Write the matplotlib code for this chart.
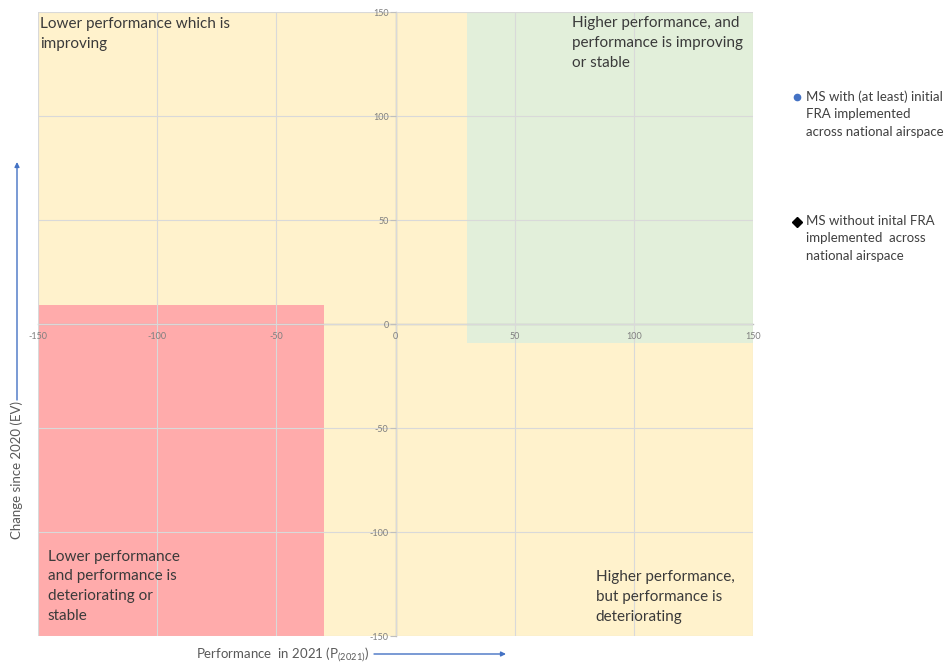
import matplotlib
matplotlib.use("Agg")
import matplotlib.pyplot as plt
from matplotlib.patches import Rectangle
from matplotlib.lines import Line2D

plt.rcParams['font.family'] = ['Lato', 'DejaVu Sans']

# axis range and ticks
x_lim = [-150, 150]
y_lim = [-150, 150]
ticks = [-150, -100, -50, 0, 50, 100, 150]

# background zones: (x0, x1, y0, y1, colour)
zone_names = ["base", "better", "worse"]
zone_x = [(-150, 150), (30, 150), (-150, -30)]
zone_y = [(-150, 150), (-9, 150), (-150, 9)]
zone_colors = ["#FFF2CC", "#E2EFDA", "#FFABAB"]

# quadrant captions
captions = [
    "Lower performance which is\nimproving",
    "Higher performance, and\nperformance is improving\nor stable",
    "Lower performance\nand performance is\ndeteriorating or\nstable",
    "Higher performance,\nbut performance is\ndeteriorating",
]
caption_x = [-149, 74, -146, 84]
caption_y = [147.5, 148, -108.5, -118.5]

# series (no member states plotted in this version)
fra_x, fra_y = [], []
nofra_x, nofra_y = [], []

fig = plt.figure(figsize=(9.52, 6.64), dpi=100)
ax = fig.add_axes([38 / 952, 1 - 636 / 664, 715 / 952, 624 / 664])
ax.set_xlim(x_lim)
ax.set_ylim(y_lim)

for (x0, x1), (y0, y1), c in zip(zone_x, zone_y, zone_colors):
    ax.add_patch(Rectangle((x0, y0), x1 - x0, y1 - y0, facecolor=c,
                           edgecolor='none', zorder=0))

ax.scatter(fra_x, fra_y, color='#4472C4', marker='o', s=25, zorder=5)
ax.scatter(nofra_x, nofra_y, color='black', marker='D', s=25, zorder=5)

ax.set_xticks(ticks)
ax.set_yticks(ticks)
ax.grid(True, color='#D9D9D9', linewidth=0.8, zorder=1)
ax.set_axisbelow(False)

for s in ['top', 'right']:
    ax.spines[s].set_visible(False)
ax.spines['left'].set_position(('data', 0))
ax.spines['bottom'].set_position(('data', 0))
for s in ['left', 'bottom']:
    ax.spines[s].set_color('#BFBFBF')
    ax.spines[s].set_linewidth(1.0)
    ax.spines[s].set_zorder(2)

ax.tick_params(axis='y', length=4, color='#BFBFBF', labelsize=6.5,
               labelcolor='#7F7F7F', pad=1)
ax.tick_params(axis='x', length=0, labelsize=6.5, labelcolor='#7F7F7F', pad=6)
ax.set_xticklabels([str(t) for t in ticks])
ax.set_yticklabels([str(t) for t in ticks])

for txt, x, y in zip(captions, caption_x, caption_y):
    ax.text(x, y, txt, fontsize=11, color='#3A3A3A', va='top', ha='left',
            linespacing=1.52, zorder=6)

# axis titles with arrows
fig.text(17 / 952, 1 - 470 / 664, "Change since 2020 (EV)", rotation=90,
         ha='center', va='center', fontsize=9.5, color='#595959')
ax.annotate("", xy=(17 / 952, 1 - 162 / 664), xytext=(17 / 952, 1 - 400 / 664),
            xycoords='figure fraction', textcoords='figure fraction',
            arrowprops=dict(arrowstyle='-|>', color='#4472C4', lw=1,
                            mutation_scale=7, shrinkA=0, shrinkB=0))
fig.text(283 / 952, 1 - 655 / 664,
         r"Performance  in 2021 (P$_{\mathregular{(2021)}}$)",
         ha='center', va='center', fontsize=9.5, color='#595959')
ax.annotate("", xy=(506 / 952, 1 - 654 / 664), xytext=(374 / 952, 1 - 654 / 664),
            xycoords='figure fraction', textcoords='figure fraction',
            arrowprops=dict(arrowstyle='-|>', color='#4472C4', lw=1,
                            mutation_scale=7, shrinkA=0, shrinkB=0))

# legend drawn by hand so markers sit on the first text line
legend_labels = ["MS with (at least) initial\nFRA implemented\nacross national airspace",
                 "MS without inital FRA\nimplemented  across\nnational airspace"]
legend_markers = ['o', 'D']
legend_colors = ['#4472C4', 'black']
legend_top = [90, 215]
for lab, m, c, top in zip(legend_labels, legend_markers, legend_colors, legend_top):
    fig.add_artist(Line2D([797 / 952], [1 - (top + 7) / 664], marker=m,
                          color=c, markersize=4.5 if m == 'o' else 5,
                          linestyle='none', transform=fig.transFigure))
    fig.text(806 / 952, 1 - top / 664, lab, ha='left', va='top',
             fontsize=9.5, color='#404040', linespacing=1.55)

fig.savefig("out.png", dpi=100)
